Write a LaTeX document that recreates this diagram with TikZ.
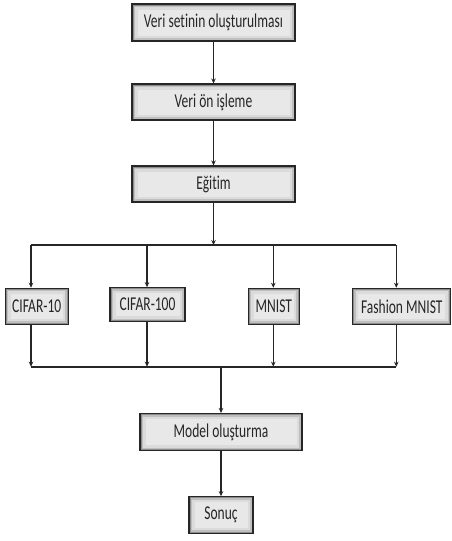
\documentclass[tikz,border=0pt]{standalone}
\usepackage{fontspec}
\setmainfont[Ligatures=NoCommon]{Carlito}
\usetikzlibrary{arrows.meta}
\newcommand\vtx[1]{\scalebox{1}[1.45]{#1}}
\begin{document}
\begin{tikzpicture}[x=1pt,y=-1pt,
  box/.style={draw=black!85, line width=1.1pt, fill=black!9, inner sep=0pt,
    text=black!85,
    font=\fontsize{13.5}{16}\selectfont,
    path picture={
      \draw[black!14,line width=11pt] (path picture bounding box.south west) rectangle (path picture bounding box.north east);
      \draw[black!25,line width=6pt] (path picture bounding box.south west) rectangle (path picture bounding box.north east);
      \draw[black!45,line width=3pt] (path picture bounding box.south west) rectangle (path picture bounding box.north east);}},
  conn/.style={draw=black!85, line width=1.3pt},
  arr/.style={conn, -{Stealth[length=5pt,width=4.5pt]}}]
\useasboundingbox (0,0) rectangle (452,541);
\fill[white] (0,0) rectangle (452,541);

\node[box, minimum width=163pt, minimum height=37pt] (b1) at (213.5,22.5) {\vtx{Veri setinin oluşturulması}};
\node[box, minimum width=163pt, minimum height=36pt] (b2) at (213.5,102) {\vtx{Veri ön işleme}};
\node[box, minimum width=163pt, minimum height=36pt] (b3) at (213.5,184) {\vtx{Eğitim}};

\coordinate (t) at (213.5,245);
\coordinate (a1) at (31,245);
\coordinate (a2) at (147,245);
\coordinate (a3) at (273.3,245);
\coordinate (a4) at (396.3,245);

\node[box, minimum width=63pt, minimum height=36pt] (c1) at (36.7,306.3) {\vtx{CIFAR-10}};
\node[box, minimum width=75pt, minimum height=34pt] (c2) at (147.5,304.7) {\vtx{CIFAR-100}};
\node[box, minimum width=51pt, minimum height=36pt] (c3) at (273.8,306.3) {\vtx{MNIST}};
\node[box, minimum width=98pt, minimum height=36pt] (c4) at (401.8,306.3) {\vtx{Fashion MNIST}};

\coordinate (z1) at (31,366.7);
\coordinate (z2) at (147,366.7);
\coordinate (z3) at (273.3,366.7);
\coordinate (z4) at (396.3,366.7);
\coordinate (m) at (221,366.7);

\node[box, minimum width=162pt, minimum height=37pt] (d1) at (221,432) {\vtx{Model oluşturma}};
\node[box, minimum width=64pt, minimum height=36.6pt] (d2) at (221,515) {\vtx{Sonuç}};

\draw[arr] (b1) -- (b2);
\draw[arr] (b2) -- (b3);
\draw[arr] (b3) -- (t);
\draw[conn] (a1) -- (a4);
\draw[arr] (a1) -- (a1 |- c1.north);
\draw[arr] (a2) -- (a2 |- c2.north);
\draw[arr] (a3) -- (a3 |- c3.north);
\draw[arr] (a4) -- (a4 |- c4.north);
\draw[arr] (z1 |- c1.south) -- (z1);
\draw[arr] (z2 |- c2.south) -- (z2);
\draw[arr] (z3 |- c3.south) -- (z3);
\draw[arr] (z4 |- c4.south) -- (z4);
\draw[conn, line width=2pt] (z1) -- (z4);
\draw[arr] (m) -- (d1);
\draw[arr] (d1) -- (d2);
\end{tikzpicture}
\end{document}
